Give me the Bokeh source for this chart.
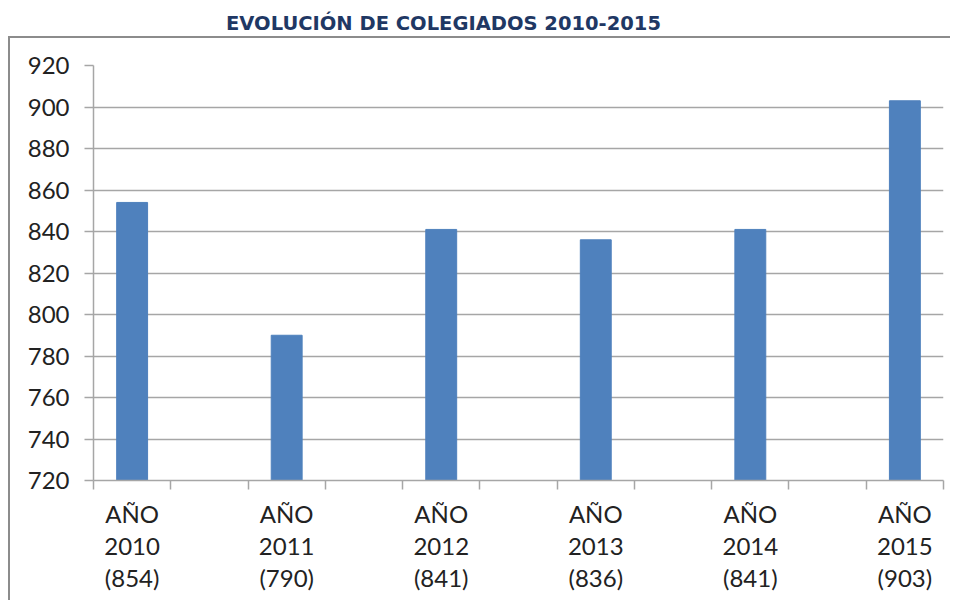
from bokeh.plotting import figure
from bokeh.models import FixedTicker, Range1d, Div
from bokeh.layouts import column
from bokeh.embed import file_html
from bokeh.resources import INLINE

# ---- data ----
years = ["2010", "2011", "2012", "2013", "2014", "2015"]
values = [854, 790, 841, 836, 841, 903]
y_ticks = [720, 740, 760, 780, 800, 820, 840, 860, 880, 900, 920]
title_text = "EVOLUCIÓN DE COLEGIADOS 2010-2015"

# bars sit in every other slot of an 11-slot category axis
centers = [2 * i + 0.5 for i in range(len(years))]
labels = {c: f"AÑO\n{y}\n({v})" for c, y, v in zip(centers, years, values)}

FONT = "Lato"
GRID = "#A6A6A6"

p = figure(
    frame_width=848, frame_height=413,
    min_border_left=83, min_border_right=9, min_border_top=27, min_border_bottom=122,
    x_range=Range1d(0, 11), y_range=Range1d(720, 920),
    output_backend="svg", toolbar_location=None,
)
p.vbar(x=centers, top=values, bottom=720, width=0.4,
       fill_color="#4F81BD", line_color="#4F81BD")

p.outline_line_color = None
p.background_fill_color = "white"
p.border_fill_color = "white"

p.xgrid.grid_line_color = None
p.ygrid.grid_line_color = GRID
p.ygrid.grid_line_width = 1.5

yax = p.yaxis[0]
yax.ticker = FixedTicker(ticks=y_ticks)
yax.axis_line_color = GRID
yax.axis_line_width = 1.5
yax.major_tick_line_color = GRID
yax.major_tick_line_width = 1.5
yax.major_tick_out = 9
yax.major_tick_in = 0
yax.minor_tick_line_color = None
yax.major_label_text_font = FONT
yax.major_label_text_font_size = "24px"
yax.major_label_text_color = "#222222"
yax.major_label_standoff = 15

xax = p.xaxis[0]
xax.ticker = FixedTicker(ticks=centers, minor_ticks=list(range(12)))
xax.axis_line_color = GRID
xax.axis_line_width = 1.5
xax.major_tick_line_color = None
xax.major_tick_out = 9
xax.major_tick_in = 0
xax.minor_tick_line_color = GRID
xax.minor_tick_line_width = 1.5
xax.minor_tick_out = 9
xax.minor_tick_in = 0
xax.major_label_overrides = labels
xax.major_label_text_font = FONT
xax.major_label_text_font_size = "24px"
xax.major_label_text_color = "#222222"
xax.major_label_text_line_height = 1.12
xax.major_label_standoff = 9

p.styles = {"border-left": "2px solid #8C8C8C", "border-top": "2px solid #8C8C8C",
            "margin-left": "8px"}

title = Div(
    text=f'<div style="font-family:\'DejaVu Sans\';font-weight:bold;font-size:19.5px;'
         f'color:#1F3864;line-height:26px;padding-top:6px;margin-left:221px;white-space:nowrap">{title_text}</div>',
    width=900, height=26,
)

layout = column(title, p, spacing=0)

open("out.html", "w").write(file_html(layout, INLINE))
